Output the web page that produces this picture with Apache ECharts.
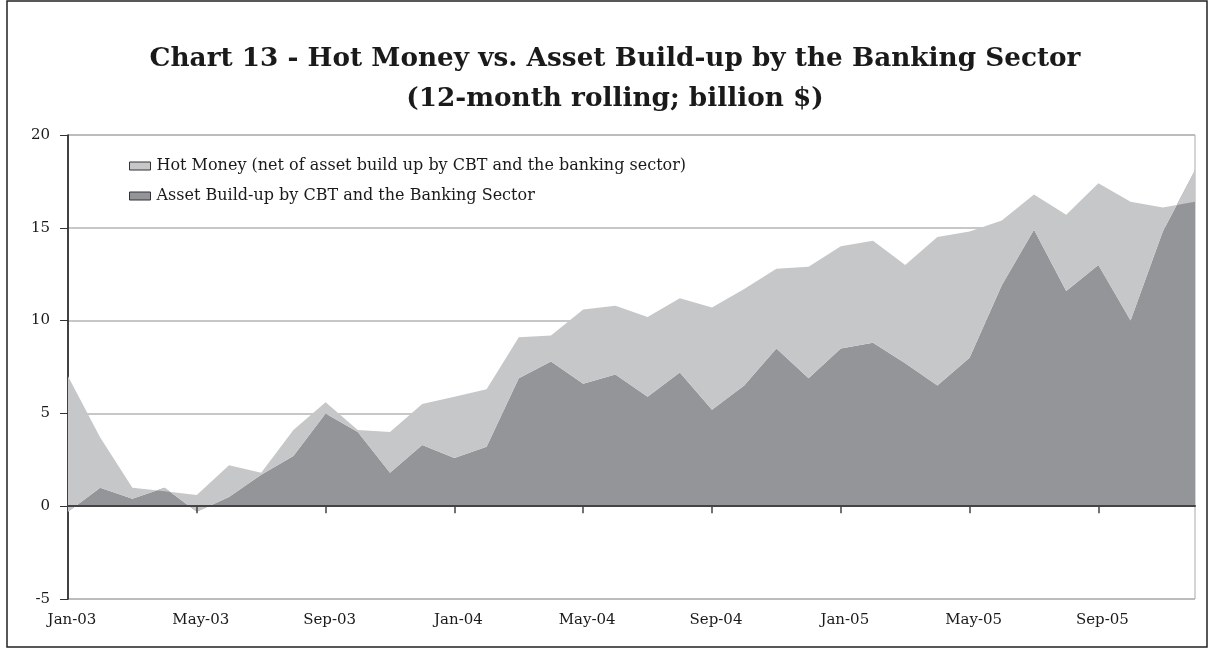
<!DOCTYPE html>
<html>
<head>
<meta charset="utf-8">
<script src="https://cdn.jsdelivr.net/npm/echarts@6/dist/echarts.min.js"></script>
<style>
  html, body { margin: 0; padding: 0; background: #ffffff; }
  #chart { width: 1209px; height: 648px; }
</style>
</head>
<body>
<div id="chart"></div>
<script>
// Monthly observations, Jan-03 .. Dec-05
const months = [
  'Jan-03','Feb-03','Mar-03','Apr-03','May-03','Jun-03','Jul-03','Aug-03','Sep-03','Oct-03','Nov-03','Dec-03',
  'Jan-04','Feb-04','Mar-04','Apr-04','May-04','Jun-04','Jul-04','Aug-04','Sep-04','Oct-04','Nov-04','Dec-04',
  'Jan-05','Feb-05','Mar-05','Apr-05','May-05','Jun-05','Jul-05','Aug-05','Sep-05','Oct-05','Nov-05','Dec-05'
];

// Asset build-up by CBT and the banking sector (billion $, 12-month rolling)
const assetBuildUp = [
  -0.3, 1.0, 0.4, 1.0, -0.3, 0.5, 1.7, 2.7, 5.0, 4.0, 1.8, 3.3,
  2.6, 3.2, 6.9, 7.8, 6.6, 7.1, 5.9, 7.2, 5.2, 6.5, 8.5, 6.9,
  8.5, 8.8, 7.7, 6.5, 8.0, 11.9, 14.9, 11.6, 13.0, 10.0, 14.8, 18.1
];

// Hot money net of the asset build-up, stacked on top of it
const hotMoneyNet = [
  7.3, 2.7, 0.6, -0.2, 0.9, 1.7, 0.1, 1.4, 0.6, 0.1, 2.2, 2.2,
  3.3, 3.1, 2.2, 1.4, 4.0, 3.7, 4.3, 4.0, 5.5, 5.2, 4.3, 6.0,
  5.5, 5.5, 5.3, 8.0, 6.8, 3.5, 1.9, 4.1, 4.4, 6.4, 1.3, -1.7
];

const yTicks = { min: -5, max: 20, step: 5 };

const seriesNames = {
  hot: 'Hot Money (net of asset build up by CBT and the banking sector)',
  asset: 'Asset Build-up by CBT and the Banking Sector'
};

const LIGHT = '#c6c7c9';
const DARK = '#949599';
const SERIF = "'DejaVu Serif', 'Liberation Serif', serif";

const chart = echarts.init(document.getElementById('chart'), null, { renderer: 'canvas' });

const everyFourth = (idx) => idx % 4 === 0;

chart.setOption({
  animation: false,
  backgroundColor: '#ffffff',
  title: {
    text: 'Chart 13 - Hot Money vs. Asset Build-up by the Banking Sector\n(12-month rolling; billion $)',
    left: 610,
    top: 34,
    textAlign: 'center',
    textStyle: {
      fontFamily: SERIF,
      fontWeight: 'bold',
      fontSize: 26.3,
      lineHeight: 40,
      color: '#1a1a1a'
    }
  },
  graphic: [
    {
      type: 'rect',
      shape: { x: 7, y: 1, width: 1200, height: 646 },
      style: { fill: 'none', stroke: '#222', lineWidth: 1.5 },
      silent: true
    }
  ],
  legend: {
    orient: 'vertical',
    left: 124,
    top: 153,
    icon: 'rect',
    itemWidth: 21,
    itemHeight: 8,
    itemGap: 14,
    data: [seriesNames.hot, seriesNames.asset],
    itemStyle: { borderColor: '#333', borderWidth: 1 },
    textStyle: {
      fontFamily: SERIF,
      fontSize: 16,
      lineHeight: 16,
      color: '#1a1a1a',
      padding: [0, 0, 0, 1]
    },
    selectedMode: false
  },
  grid: {
    left: 68,
    right: 14,
    top: 135,
    bottom: 49,
    show: true,
    borderColor: '#a9a9a9',
    borderWidth: 1,
    containLabel: false
  },
  xAxis: [
    {
      // labels along the bottom edge
      type: 'category',
      data: months,
      boundaryGap: false,
      position: 'bottom',
      axisLine: { show: false, onZero: false },
      axisTick: { show: false },
      splitLine: { show: false },
      axisLabel: {
        interval: (idx) => everyFourth(idx),
        fontFamily: SERIF,
        fontSize: 15,
        color: '#1a1a1a',
        margin: 14,
        padding: [0, 0, 0, 8]
      }
    },
    {
      // zero line with month ticks
      type: 'category',
      data: months,
      boundaryGap: false,
      position: 'bottom',
      axisLine: { show: true, onZero: true, lineStyle: { color: '#444', width: 2 } },
      axisTick: {
        show: true,
        interval: (idx) => everyFourth(idx) && idx > 0,
        length: 7,
        lineStyle: { color: '#444', width: 1.5 }
      },
      axisLabel: { show: false },
      splitLine: { show: false },
      z: 10
    }
  ],
  yAxis: {
    type: 'value',
    min: yTicks.min,
    max: yTicks.max,
    interval: yTicks.step,
    axisLine: { show: true, onZero: false, lineStyle: { color: '#111', width: 1.5 } },
    axisTick: { show: true, length: 8, lineStyle: { color: '#333' } },
    splitLine: { show: true, lineStyle: { color: '#b4b4b4', width: 1.5 } },
    axisLabel: {
      fontFamily: SERIF,
      fontSize: 15,
      color: '#1a1a1a',
      margin: 18
    }
  },
  series: [
    {
      name: seriesNames.asset,
      type: 'line',
      xAxisIndex: 0,
      data: assetBuildUp,
      stack: 'flows',
      stackStrategy: 'all',
      symbol: 'none',
      lineStyle: { width: 0, color: DARK },
      itemStyle: { color: DARK },
      areaStyle: { color: DARK, opacity: 1 },
      z: 2
    },
    {
      name: seriesNames.hot,
      type: 'line',
      xAxisIndex: 0,
      data: hotMoneyNet,
      stack: 'flows',
      stackStrategy: 'all',
      symbol: 'none',
      lineStyle: { width: 0, color: LIGHT },
      itemStyle: { color: LIGHT },
      areaStyle: { color: LIGHT, opacity: 1 },
      z: 2
    }
  ]
});
</script>
</body>
</html>
